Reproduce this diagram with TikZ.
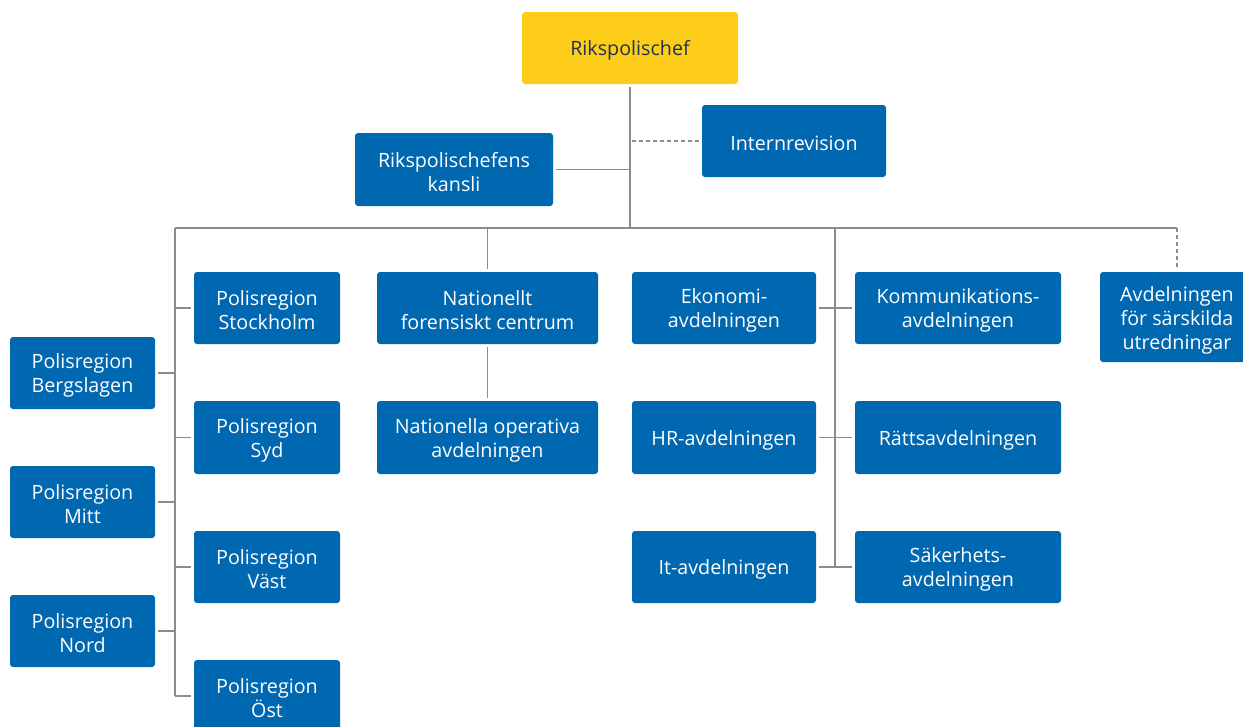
\documentclass[tikz,border=0pt]{standalone}
\usepackage{fontspec}
\setmainfont{Open Sans}
\definecolor{polblue}{RGB}{0,103,177}
\definecolor{polyellow}{RGB}{253,205,26}
\definecolor{navytext}{RGB}{30,52,80}
\definecolor{linegray}{RGB}{140,140,140}
\tikzset{
  box/.style={rectangle, rounded corners=3pt, fill=polblue, text=white,
    align=center, inner sep=0pt, outer sep=3pt,
    font=\fontsize{19.7}{24}\selectfont,
    execute at begin node={\rule{0pt}{20pt}}},
  multi/.style={execute at begin node={\rule{0pt}{44pt}}},
  triple/.style={execute at begin node={\rule{0pt}{69pt}}},
  chefbox/.style={box, fill=polyellow, text=navytext},
  ln/.style={draw=linegray, line width=1.4pt},
  dl/.style={ln, dash pattern=on 4pt off 3pt},
}
\begin{document}
\begin{tikzpicture}[x=1pt,y=-1pt]
\useasboundingbox (0,0) rectangle (1243,726);
% nodes
\node[chefbox, minimum width=216pt, minimum height=72pt] (chef) at (630,48) {Rikspolischef};
\node[box, minimum width=184pt, minimum height=72pt] (intern) at (794,141) {Internrevision};
\node[box, multi, minimum width=198pt, minimum height=73pt] (kansli) at (454,169.5) {Rikspolischefens\\kansli};

\node[box, multi, minimum width=146pt, minimum height=72pt] (sthlm) at (267,308) {Polisregion\\Stockholm};
\node[box, multi, minimum width=146pt, minimum height=73pt] (syd) at (267,437.5) {Polisregion\\Syd};
\node[box, multi, minimum width=146pt, minimum height=72pt] (vast) at (267,567) {Polisregion\\Väst};
\node[box, multi, minimum width=146pt, minimum height=72pt] (ost) at (267,696) {Polisregion\\Öst};

\node[box, multi, minimum width=145pt, minimum height=72pt] (berg) at (82.5,373) {Polisregion\\Bergslagen};
\node[box, multi, minimum width=145pt, minimum height=72pt] (mitt) at (82.5,502) {Polisregion\\Mitt};
\node[box, multi, minimum width=145pt, minimum height=72pt] (nord) at (82.5,631) {Polisregion\\Nord};

\node[box, multi, minimum width=221pt, minimum height=72pt] (nfc) at (487.5,308) {Nationellt\\forensiskt centrum};
\node[box, multi, minimum width=221pt, minimum height=73pt] (noa) at (487.5,437.5) {Nationella operativa\\avdelningen};

\node[box, multi, minimum width=184pt, minimum height=72pt] (ekon) at (724,308) {Ekonomi-\\avdelningen};
\node[box, minimum width=184pt, minimum height=73pt] (hr) at (724,437.5) {HR-avdelningen};
\node[box, minimum width=184pt, minimum height=72pt] (it) at (724,567) {It-avdelningen};

\node[box, multi, minimum width=206pt, minimum height=72pt] (komm) at (958,308) {Kommunikations-\\avdelningen};
\node[box, minimum width=206pt, minimum height=73pt] (ratt) at (958,437.5) {Rättsavdelningen};
\node[box, multi, minimum width=206pt, minimum height=72pt] (sak) at (958,567) {Säkerhets-\\avdelningen};

\node[box, triple, minimum width=154pt, minimum height=90pt] (sarsk) at (1177,317) {Avdelningen\\för särskilda\\utredningar};

% coordinates
\coordinate (hub) at (630,228);
\coordinate (busL) at (175,228);
\coordinate (busR) at (1177,228);
\coordinate (busM) at (835,228);
\coordinate (busN) at (487.5,228);
\coordinate (leftEnd) at (175,696);
\coordinate (midEnd) at (835,567);

% connectors
\draw[ln] (chef.south) -- (hub);
\draw[ln] (kansli.east) -- (kansli.east -| hub);
\draw[dl] (intern.west) -- (intern.west -| hub);
\draw[ln] (busL) -- (busR);
\draw[dl] (busR) -- (sarsk.north);
\draw[ln] (busN) -- (nfc.north);
\draw[ln] (nfc.south) -- (noa.north);

\draw[ln] (busL) -- (leftEnd);
\draw[ln] (sthlm.west) -- (sthlm.west -| busL);
\draw[ln] (syd.west) -- (syd.west -| busL);
\draw[ln] (vast.west) -- (vast.west -| busL);
\draw[ln] (ost.west) -- (ost.west -| busL);
\draw[ln] (berg.east) -- (berg.east -| busL);
\draw[ln] (mitt.east) -- (mitt.east -| busL);
\draw[ln] (nord.east) -- (nord.east -| busL);

\draw[ln] (busM) -- (midEnd);
\draw[ln] (ekon.east) -- (komm.west);
\draw[ln] (hr.east) -- (ratt.west);
\draw[ln] (it.east) -- (sak.west);
\end{tikzpicture}
\end{document}
